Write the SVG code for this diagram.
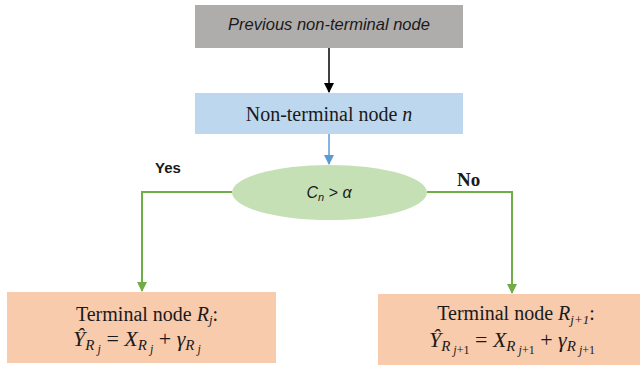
<svg xmlns="http://www.w3.org/2000/svg" width="641" height="366" viewBox="0 0 641 366">
<style>
.sans{font-family:"Liberation Sans",Arial,sans-serif}
.serif{font-family:"Liberation Serif","Times New Roman",serif}
.t{fill:#1a1a1a}
.g{stroke:#70AD47;stroke-width:2;fill:none}
.i{font-style:italic}
.s1{font-style:italic;font-size:15px}
.s2{font-style:italic;font-size:12px}
.u{font-style:normal}
</style>
<defs>
<marker id="ab" markerWidth="10" markerHeight="10" refX="9" refY="5" orient="auto" markerUnits="userSpaceOnUse"><path d="M0,0 L10,5 L0,10 Z" fill="#000"/></marker>
<marker id="abl" markerWidth="10" markerHeight="10" refX="9" refY="5" orient="auto" markerUnits="userSpaceOnUse"><path d="M0,0 L10,5 L0,10 Z" fill="#5B9BD5"/></marker>
<marker id="ag" markerWidth="10" markerHeight="10" refX="9" refY="5" orient="auto" markerUnits="userSpaceOnUse"><path d="M0,0 L10,5 L0,10 Z" fill="#70AD47"/></marker>
</defs>
<rect width="641" height="366" fill="#fff"/>
<g id="connectors">
<line x1="329" y1="48" x2="329" y2="92" stroke="#000" stroke-width="1.5" marker-end="url(#ab)"/>
<line x1="329" y1="134" x2="329" y2="164" stroke="#5B9BD5" stroke-width="1.5" marker-end="url(#abl)"/>
<polyline class="g" points="232,192 142,192 142,291" marker-end="url(#ag)"/>
<polyline class="g" points="427,192 512,192 512,293" marker-end="url(#ag)"/>
<text class="sans t" x="155" y="173" font-size="15" font-weight="bold">Yes</text>
<text class="serif t" x="457" y="186" font-size="19" font-weight="bold">No</text>
</g>
<g id="prev">
<rect x="195" y="5" width="268" height="43" fill="#AFADAB"/>
<text class="sans t" x="329" y="30" font-size="16.5" font-style="italic" text-anchor="middle">Previous non-terminal node</text>
</g>
<g id="node-n">
<rect x="195" y="93" width="268" height="41" fill="#BDD7EE"/>
<text class="serif t" x="329" y="121" font-size="20" text-anchor="middle">Non-terminal node <tspan class="i">n</tspan></text>
</g>
<g id="decision">
<ellipse cx="329.5" cy="192.5" rx="97.5" ry="27.5" fill="#C5E0B4"/>
<text class="sans t" x="329" y="198" font-size="16" font-style="italic" text-anchor="middle">C<tspan font-size="11" dy="3">n</tspan><tspan dy="-3"> &gt; α</tspan></text>
</g>
<g id="terminal-left">
<rect x="7" y="292" width="269" height="71" fill="#F8CBAD"/>
<text class="serif t" x="147" y="321" font-size="20" text-anchor="middle">Terminal node <tspan class="i">R</tspan><tspan class="i" font-size="13" dy="3">j</tspan><tspan dy="-3">:</tspan></text>
<text class="serif t" x="137" y="346" font-size="22" text-anchor="middle"><tspan class="i">Ŷ</tspan><tspan class="s1" dy="4">R</tspan><tspan class="s2" dy="3"> j</tspan><tspan dy="-7"> = </tspan><tspan class="i">X</tspan><tspan class="s1" dy="4">R</tspan><tspan class="s2" dy="3"> j</tspan><tspan dy="-7"> + </tspan><tspan class="i">γ</tspan><tspan class="s1" dy="4">R</tspan><tspan class="s2" dy="3"> j</tspan></text>
</g>
<g id="terminal-right">
<rect x="378" y="294" width="262" height="71" fill="#F8CBAD"/>
<text class="serif t" x="516" y="320" font-size="20" text-anchor="middle">Terminal node <tspan class="i">R</tspan><tspan class="i" font-size="13" dy="4">j+1</tspan><tspan dy="-4">:</tspan></text>
<text class="serif t" x="512" y="347" font-size="22" text-anchor="middle"><tspan class="i">Ŷ</tspan><tspan class="s1" dy="4">R</tspan><tspan class="s2" dy="3"> j<tspan class="u">+1</tspan></tspan><tspan dy="-7"> = </tspan><tspan class="i">X</tspan><tspan class="s1" dy="4">R</tspan><tspan class="s2" dy="3"> j<tspan class="u">+1</tspan></tspan><tspan dy="-7"> + </tspan><tspan class="i">γ</tspan><tspan class="s1" dy="4">R</tspan><tspan class="s2" dy="3"> j<tspan class="u">+1</tspan></tspan></text>
</g>
</svg>
